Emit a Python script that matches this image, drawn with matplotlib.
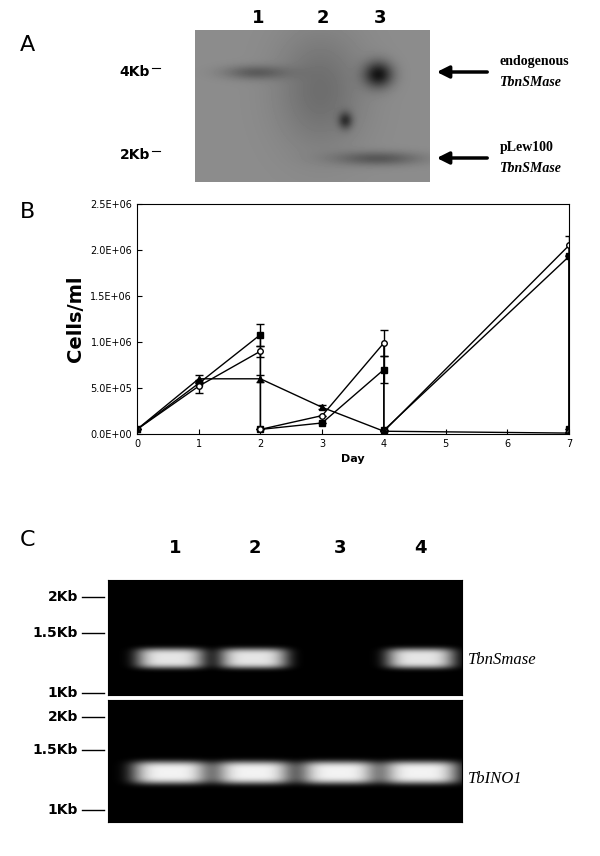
import numpy as np
import matplotlib.pyplot as plt

# panel B growth data (cells/ml); repeated days are the dilution drops
days_sq = [0, 1, 2, 2, 3, 4, 4, 7, 7]
cells_sq = [5e4, 5.5e5, 1.08e6, 5e4, 1.2e5, 7.0e5, 4e4, 1.93e6, 5e4]
err_sq = [0, 0, 1.2e5, 0, 0, 1.5e5, 0, 0, 0]
days_open = [0, 1, 2, 2, 3, 4, 4, 7, 7]
cells_open = [5e4, 5.2e5, 9.0e5, 5e4, 2.0e5, 9.9e5, 3e4, 2.05e6, 2e4]
err_open = [0, 7e4, 6e4, 0, 0, 1.4e5, 0, 1.0e5, 0]
days_tri = [0, 1, 2, 3, 4, 7]
cells_tri = [5e4, 6.0e5, 6.0e5, 2.9e5, 3e4, 1e4]
err_tri = [0, 4e4, 4e4, 2e4, 0, 0]

W, H = 600, 856
fig = plt.figure(figsize=(6, 8.56), dpi=100)

def px_axes(x0, y0, x1, y1):
    return fig.add_axes([x0 / W, 1 - y1 / H, (x1 - x0) / W, (y1 - y0) / H])

def blob_image(w, h, bg, blobs, p=1):
    yy, xx = np.mgrid[0:h, 0:w]
    img = np.full((h, w), bg, dtype=float)
    for cx, cy, sx, sy, amp in blobs:
        img += amp * np.exp(-(((xx - cx) ** 2 / (2 * sx ** 2)) ** p + ((yy - cy) ** 2 / (2 * sy ** 2)) ** p))
    return np.clip(img, 0, 1)

# ---- panel A: southern blot ----
axA = px_axes(195, 30, 430, 182)
imgA = blob_image(235, 152, 0.55, [
    (60, 42, 22, 5, -0.18), (125, 60, 30, 40, -0.12), (183, 44, 10, 9, -0.45),
    (183, 128, 30, 5, -0.2), (150, 90, 5, 6, -0.3)])
axA.imshow(imgA, cmap="gray", vmin=0, vmax=1, aspect="auto")
axA.set_xticks([]); axA.set_yticks([])
for s in axA.spines.values():
    s.set_visible(False)
for x, t in [(258, "1"), (323, "2"), (380, "3")]:
    fig.text(x / W, 1 - 18 / H, t, ha="center", va="center", fontsize=13, fontweight="bold")
fig.text(20 / W, 1 - 45 / H, "A", fontsize=16, va="center")
fig.text(150 / W, 1 - 72 / H, "4Kb", fontsize=10, fontweight="bold", va="center", ha="right")
fig.text(150 / W, 1 - 155 / H, "2Kb", fontsize=10, fontweight="bold", va="center", ha="right")
fig.add_artist(plt.Line2D([152 / W, 160 / W], [1 - 68 / H] * 2, color="black", lw=0.8))
fig.add_artist(plt.Line2D([152 / W, 160 / W], [1 - 151 / H] * 2, color="black", lw=0.8))
for y, l1, l2 in [(72, "endogenous", "TbnSMase"), (158, "pLew100", "TbnSMase")]:
    fig.add_artist(plt.Annotation("", xy=(434 / W, 1 - y / H), xytext=(490 / W, 1 - y / H),
                                  xycoords="figure fraction",
                                  arrowprops=dict(arrowstyle="-|>", lw=2.5, color="black", mutation_scale=18)))
    fig.text(500 / W, 1 - (y - 10) / H, l1, fontsize=10, fontweight="bold", family="Liberation Serif", va="center")
    fig.text(500 / W, 1 - (y + 10) / H, l2, fontsize=10, fontweight="bold", style="italic",
             family="Liberation Serif", va="center")

# ---- panel B: growth curves ----
axB = px_axes(137, 204, 569, 434)
kw = dict(color="black", lw=1, ms=4, capsize=3, elinewidth=1)
axB.errorbar(days_sq, cells_sq, yerr=err_sq, marker="s", mfc="black", **kw)
axB.errorbar(days_open, cells_open, yerr=err_open, marker="o", mfc="white", **kw)
axB.errorbar(days_tri, cells_tri, yerr=err_tri, marker="^", mfc="black", **kw)
axB.set_xlim(0, 7)
axB.set_ylim(0, 2.5e6)
axB.set_xticks(range(8))
axB.set_yticks(np.arange(0, 2.51e6, 5e5))
axB.set_yticklabels(["0.0E+00", "5.0E+05", "1.0E+06", "1.5E+06", "2.0E+06", "2.5E+06"])
axB.tick_params(labelsize=7, direction="in")
axB.set_xlabel("Day", fontsize=8, fontweight="bold")
axB.set_ylabel("Cells/ml", fontsize=14, fontweight="bold")
fig.text(20 / W, 1 - 212 / H, "B", fontsize=16, va="center")

# ---- panel C: RT-PCR gels ----
lanes = [62, 145, 230, 312]
axC1 = px_axes(108, 580, 462, 695)
imgC1 = blob_image(354, 115, 0.0, [(x, 78, 24, 7, 0.9) for i, x in enumerate(lanes) if i != 2], p=2)
axC2 = px_axes(108, 700, 462, 822)
imgC2 = blob_image(354, 122, 0.0, [(x, 72, 27, 8, 0.95) for x in lanes], p=2)
for ax, img in [(axC1, imgC1), (axC2, imgC2)]:
    ax.imshow(img, cmap="gray", vmin=0, vmax=1, aspect="auto")
    ax.set_xticks([]); ax.set_yticks([])
for x, t in zip([175, 255, 340, 420], ["1", "2", "3", "4"]):
    fig.text(x / W, 1 - 548 / H, t, ha="center", va="center", fontsize=13, fontweight="bold")
fig.text(20 / W, 1 - 540 / H, "C", fontsize=16, va="center")
for y, t in [(597, "2Kb"), (633, "1.5Kb"), (693, "1Kb"), (717, "2Kb"), (750, "1.5Kb"), (810, "1Kb")]:
    fig.text(78 / W, 1 - y / H, t, fontsize=10, fontweight="bold", ha="right", va="center")
    fig.add_artist(plt.Line2D([82 / W, 104 / W], [1 - y / H] * 2, color="black", lw=1))
fig.text(468 / W, 1 - 660 / H, "TbnSmase", fontsize=12, style="italic", family="Liberation Serif", va="center")
fig.text(468 / W, 1 - 779 / H, "TbINO1", fontsize=12, style="italic", family="Liberation Serif", va="center")

fig.savefig("out.png", dpi=100)
